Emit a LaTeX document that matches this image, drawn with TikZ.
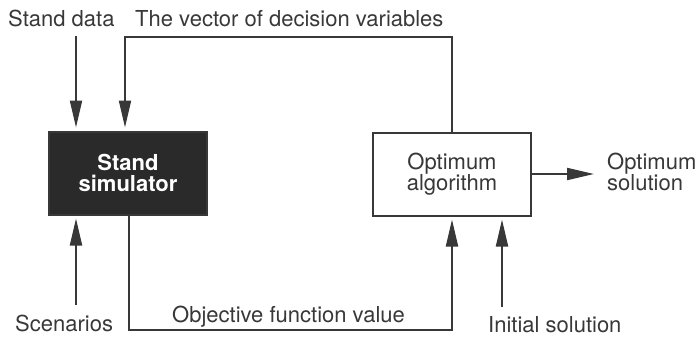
\documentclass[tikz,border=0pt]{standalone}
\usepackage{fontspec}
\setmainfont{TeX Gyre Heros}
\usetikzlibrary{arrows.meta}
\definecolor{ink}{HTML}{383838}
\definecolor{boxfill}{HTML}{2A2A2A}
\begin{document}
\begin{tikzpicture}[x=1pt, y=-1pt, font=\fontsize{22}{21.5}\selectfont]
        \tikzstyle{block} = [shape=rectangle, draw=ink, line width=2pt, minimum width=158pt, minimum height=83pt, align=center, inner sep=0pt]
        \tikzstyle{lbl}   = [text=ink, align=left, inner sep=0pt]
        \tikzstyle{flow}  = [draw=ink, line width=2pt, -{Triangle[length=27pt, width=12pt]}, shorten >=3pt]

        \useasboundingbox (0,0) rectangle (696,338);

        % the two blocks
        \node[block, fill=boxfill, text=white, font=\fontsize{22}{21.5}\selectfont\bfseries] (sim) at (128,173) {Stand\\simulator};
        \node[block, fill=white, text=ink] (opt) at (452,174) {Optimum\\algorithm};

        % texts
        \node[lbl, anchor=base west] (standdata) at (8,26)   {Stand data};
        \node[lbl, anchor=base west] (vectorlbl) at (135,26) {The vector of decision variables};
        \node[lbl, anchor=base west] (scen)      at (15,331) {Scenarios};
        \node[lbl, anchor=base west] (objlbl)    at (172,322) {Objective function value};
        \node[lbl, anchor=base west] (initlbl)   at (488,332) {Initial solution};
        \node[lbl, anchor=west]      (optsol)    at (607,172) {Optimum\\solution};

        \coordinate (sdtop)   at (76,36);
        \coordinate (vtop)    at (125,37);
        \coordinate (scbot)   at (76,305);
        \coordinate (objbot)  at (129,330);
        \coordinate (initbot) at (502,307);
        \coordinate (outend)  at (597,172);

        % inputs of the simulator
        \draw[flow] (sdtop) -- (sdtop |- sim.north);
        \draw[flow] (scbot) -- (scbot |- sim.south);

        % loop between simulator and optimum algorithm
        \draw[flow] (opt.north) |- (vtop) -- (vtop |- sim.north);
        \draw[flow] (objbot |- sim.south) -- (objbot) -| (opt.south);

        \draw[flow] (initbot) -- (initbot |- opt.south);
        \draw[flow] (opt.east) -- (outend |- opt.east);

\end{tikzpicture}
\end{document}
